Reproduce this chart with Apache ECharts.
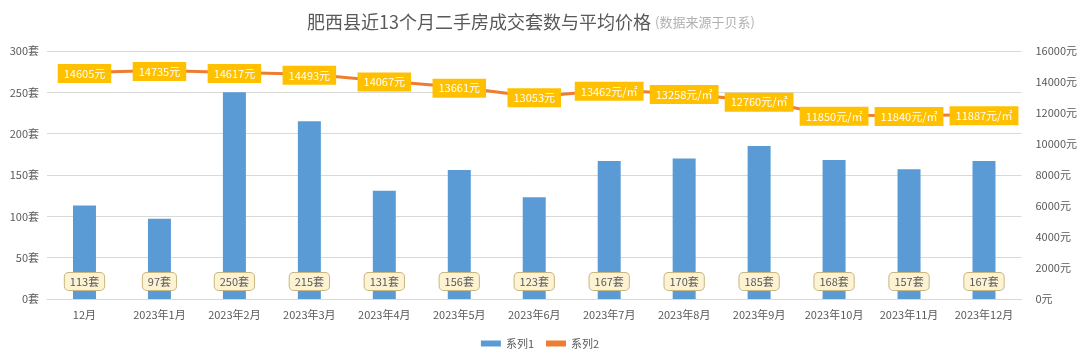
<!DOCTYPE html>
<html><head><meta charset="utf-8">
<script src="https://cdn.jsdelivr.net/npm/echarts@6/dist/echarts.min.js"></script>
<style>html,body{margin:0;padding:0;background:#fff}#c{width:1080px;height:363px}</style>
</head><body><div id="c"></div>
<script>
const categories = ['12月','2023年1月','2023年2月','2023年3月','2023年4月','2023年5月','2023年6月','2023年7月','2023年8月','2023年9月','2023年10月','2023年11月','2023年12月'];
const counts = [113, 97, 250, 215, 131, 156, 123, 167, 170, 185, 168, 157, 167];
const prices = [14605, 14735, 14617, 14493, 14067, 13661, 13053, 13462, 13258, 12760, 11850, 11840, 11887];
const priceUnits = ['元','元','元','元','元','元','元','元/㎡','元/㎡','元/㎡','元/㎡','元/㎡','元/㎡'];
const titleText = '肥西县近13个月二手房成交套数与平均价格';
const subText = '(数据来源于贝系)';

const font = '"Noto Sans CJK SC", sans-serif';
const chart = echarts.init(document.getElementById('c'));
chart.setOption({
  backgroundColor: '#fff',
  animation: false,
  textStyle: {fontFamily: font},
  title: {
    text: titleText + ' {s|' + subText + '}',
    left: 302, top: 8,
    textStyle: {fontSize: 18, fontWeight: 'normal', color: '#595959', fontFamily: font,
      rich: {s: {fontSize: 13, color: '#b0b0b0', fontFamily: font}}}
  },
  legend: {
    bottom: 9, left: 'center', itemWidth: 20, itemHeight: 6, itemGap: 12,
    textStyle: {fontSize: 11, color: '#595959'},
    data: [{name: '系列1', icon: 'rect'}, {name: '系列2', icon: 'rect'}]
  },
  grid: {left: 47, right: 58, top: 51, bottom: 64},
  xAxis: {
    type: 'category', data: categories,
    axisLine: {lineStyle: {color: '#d9d9d9'}},
    axisTick: {show: false},
    axisLabel: {color: '#595959', fontSize: 11, margin: 10, interval: 0}
  },
  yAxis: [
    {type: 'value', min: 0, max: 300, interval: 50,
     axisLabel: {formatter: '{value}套', color: '#595959', fontSize: 11},
     splitLine: {lineStyle: {color: '#d9d9d9'}}, axisLine: {show: false}, axisTick: {show: false}},
    {type: 'value', min: 0, max: 16000, interval: 2000,
     axisLabel: {formatter: v => v + '元', color: '#595959', fontSize: 11, margin: 14},
     splitLine: {show: false}, axisLine: {show: false}, axisTick: {show: false}}
  ],
  series: [
    {name: '系列1', type: 'bar', data: counts, barWidth: 23, yAxisIndex: 0,
     itemStyle: {color: '#5b9bd5'},
     label: {show: true, position: 'insideBottom', distance: 9, formatter: '{c}套',
       color: '#595959', fontSize: 11, backgroundColor: '#fdf2d2', borderColor: '#c9b77f',
       borderWidth: 1, borderRadius: 4, padding: [3, 5]}},
    {name: '系列2', type: 'line', data: prices, yAxisIndex: 1, z: 5,
     symbol: 'circle', symbolSize: 1, showSymbol: true,
     lineStyle: {color: '#ed7d31', width: 3}, itemStyle: {color: '#ed7d31'},
     label: {show: true, position: 'top', distance: 0, offset: [0, 11],
       formatter: p => p.value + priceUnits[p.dataIndex],
       color: '#fff', fontSize: 11, backgroundColor: '#ffc000', padding: [4, 6]}}
  ]
});
</script></body></html>
